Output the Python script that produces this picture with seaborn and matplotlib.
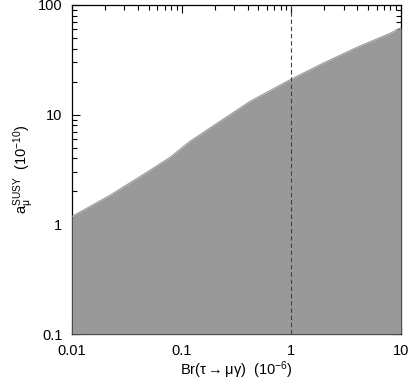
import numpy as np
import pandas as pd
import matplotlib
matplotlib.use("Agg")
import matplotlib.pyplot as plt
import seaborn as sns

# upper edge of the allowed region
br_tau = [0.01, 0.0222, 0.0514, 0.0782, 0.119, 0.223, 0.419, 0.99, 1.94, 3.96, 7.92, 10.0]
amu_max = [1.18, 1.84, 3.11, 4.08, 5.71, 8.69, 13.2, 21.0, 29.4, 41.1, 55.1, 62.0]
amu_floor = 0.1
br_limit = 1.0

x_ticks = [0.01, 0.1, 1, 10]
x_ticklabels = ["0.01", "0.1", "1", "10"]
y_ticks = [0.1, 1, 10, 100]
y_ticklabels = ["0.1", "1", "10", "100"]

df = pd.DataFrame({"br": br_tau, "amu": amu_max})

sns.set_style("ticks", {"axes.edgecolor": "black", "text.color": "black",
                        "axes.labelcolor": "black", "xtick.color": "black",
                        "ytick.color": "black"})
plt.rcParams["font.family"] = ["Liberation Sans", "DejaVu Sans"]
plt.rcParams["mathtext.fontset"] = "custom"
plt.rcParams["mathtext.rm"] = "Liberation Sans"
plt.rcParams["mathtext.it"] = "Liberation Sans"

fig = plt.figure(figsize=(4.11, 3.82), dpi=100)
ax = fig.add_axes([72 / 411, 48 / 382, 329 / 411, 329 / 382])

gray = "#999999"
ax.fill_between(df["br"], amu_floor, df["amu"], color=gray, lw=0, zorder=3)
sns.lineplot(data=df, x="br", y="amu", ax=ax, color=gray, lw=0.8, zorder=3)
ax.axvline(br_limit, color="#444444", lw=0.8, ls=(0, (4, 2.5)), zorder=4)

ax.set_xscale("log")
ax.set_yscale("log")
ax.set_xlim(0.01, 10)
ax.set_ylim(0.1, 100)
ax.set_xticks(x_ticks)
ax.set_xticklabels(x_ticklabels)
ax.set_yticks(y_ticks)
ax.set_yticklabels(y_ticklabels)

ax.tick_params(which="both", direction="in", top=True, right=True,
               width=0.8, labelsize=10.5, color="black", labelcolor="black")
ax.tick_params(which="major", length=6)
ax.tick_params(which="minor", length=3.5)
ax.tick_params(axis="x", which="major", pad=7)
ax.tick_params(axis="y", which="major", pad=7)
for s in ax.spines.values():
    s.set_linewidth(0.9)
    s.set_edgecolor("black")
    s.set_zorder(2)

ax.set_xlabel(r"Br($\tau\rightarrow\mu\gamma$)  (10$^{-6}$)", fontsize=10.5,
              labelpad=1, color="black")
ax.set_ylabel(r"$\mathregular{a_{\mu}^{SUSY}}$  (10$^{-10}$)", fontsize=10.5,
              labelpad=1, color="black")

fig.savefig("out.png", dpi=100, facecolor="white")
